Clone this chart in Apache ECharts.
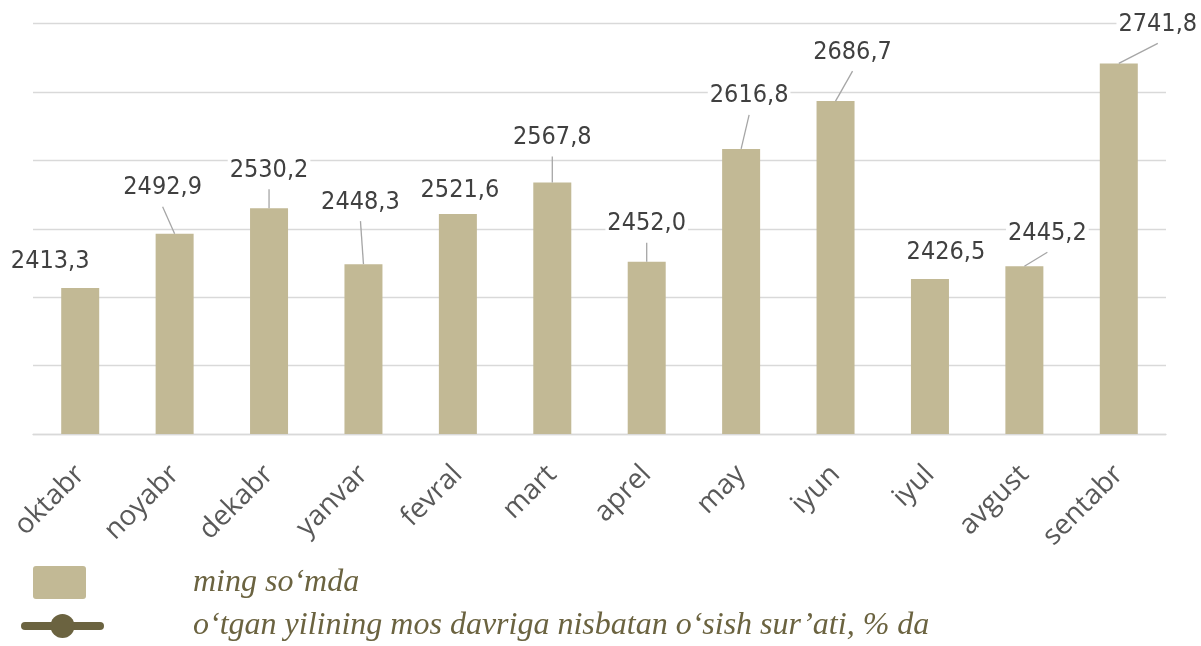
<!DOCTYPE html>
<html>
<head>
<meta charset="utf-8">
<script src="https://cdn.jsdelivr.net/npm/echarts@6/dist/echarts.min.js"></script>
<style>
  html, body { margin: 0; padding: 0; background: #ffffff; }
  #chart { width: 1201px; height: 646px; }
</style>
</head>
<body>
<div id="chart"></div>
<script>
// oylar
const months = ['oktabr', 'noyabr', 'dekabr', 'yanvar', 'fevral', 'mart', 'aprel', 'may', 'iyun', 'iyul', 'avgust', 'sentabr'];
// ming so‘mda
const values = [2413.3, 2492.9, 2530.2, 2448.3, 2521.6, 2567.8, 2452.0, 2616.8, 2686.7, 2426.5, 2445.2, 2741.8];
// o‘sish sur’ati - rasmda chizilmagan, faqat legendada bor
const growth = [];
// y o'qi (yozuvlari ko'rinmaydi)
const yTicks = [2200, 2300, 2400, 2500, 2600, 2700, 2800];

const barName = 'ming so‘mda';
const lineName = 'o‘tgan yilining mos davriga nisbatan o‘sish sur’ati, % da';

// yozuvlarni ustun tepasidan siljitish (px)
const labelDx = [-30, -12, 0, -3, 2, 0, 0, 8, 17, 16, 23, 39];
const labelDy = [-27, -46, -38, -62, -24, -45, -38, -53, -49, -27, -33, -39];
const showLeader = [false, true, true, true, false, true, true, true, true, false, true, true];

const barColor = '#C2B995';
const olive = '#6B6340';
const legendFont = "'Liberation Serif', serif";

function fmt(v) {
  return v.toFixed(1).replace('.', ',');
}

const myChart = echarts.init(document.getElementById('chart'));

const option = {
  animation: false,
  grid: {
    left: 33,
    right: 35,
    top: 23.6,
    bottom: 212
  },
  legend: [
    {
      data: [barName],
      orient: 'vertical',
      left: 28,
      top: 561,
      itemWidth: 53,
      itemHeight: 33,
      icon: 'path://M3,0 L50,0 Q53,0 53,3 L53,30 Q53,33 50,33 L3,33 Q0,33 0,30 L0,3 Q0,0 3,0 Z',
      textStyle: {
        fontFamily: legendFont,
        fontStyle: 'italic',
        fontSize: 32,
        color: olive,
        padding: [6, 0, 0, 102]
      }
    },
    {
      data: [lineName],
      orient: 'vertical',
      left: 16,
      top: 605,
      itemWidth: 75,
      itemHeight: 30,
      lineStyle: { color: olive, width: 8, cap: 'round' },
      itemStyle: { color: olive },
      textStyle: {
        fontFamily: legendFont,
        fontStyle: 'italic',
        fontSize: 32,
        color: olive,
        padding: [10, 0, 0, 88]
      }
    }
  ],
  xAxis: {
    type: 'category',
    data: months,
    axisLine: { lineStyle: { color: '#D9D9D9', width: 1.3 } },
    axisTick: { show: false },
    axisLabel: {
      rotate: 45,
      margin: 36,
      interval: 0,
      fontFamily: "'Open Sans', sans-serif",
      fontSize: 28,
      color: '#595959'
    }
  },
  yAxis: {
    type: 'value',
    min: yTicks[0],
    max: yTicks[yTicks.length - 1],
    interval: yTicks[1] - yTicks[0],
    axisLabel: { show: false },
    axisLine: { show: false },
    axisTick: { show: false },
    splitLine: { lineStyle: { color: '#D9D9D9', width: 1.3 } }
  },
  series: [
    {
      name: barName,
      type: 'bar',
      data: values,
      barWidth: 38,
      itemStyle: { color: barColor }
    },
    {
      name: lineName,
      type: 'line',
      data: growth,
      symbol: 'circle',
      itemStyle: { color: olive },
      lineStyle: { color: olive, width: 8, cap: 'round' }
    },
    {
      // qiymat yozuvlari va ularning chiziqlari
      type: 'custom',
      data: values.map((v, i) => [i, v]),
      z: 5,
      renderItem: (params, api) => {
        const i = params.dataIndex;
        const top = api.coord([api.value(0), api.value(1)]);
        const lx = top[0] + labelDx[i];
        const ly = top[1] + labelDy[i];
        const children = [];
        if (showLeader[i]) {
          children.push({
            type: 'line',
            shape: { x1: lx, y1: ly + 19, x2: top[0], y2: top[1] },
            style: { stroke: '#A6A6A6', lineWidth: 1.3 }
          });
        }
        children.push({
          type: 'text',
          x: lx,
          y: ly,
          style: {
            text: fmt(values[i]),
            align: 'center',
            verticalAlign: 'middle',
            fontFamily: "'DejaVu Sans Condensed', 'DejaVu Sans', sans-serif",
            fontSize: 25,
            fill: '#404040',
            backgroundColor: '#ffffff',
            padding: [1, 2]
          }
        });
        return { type: 'group', children: children };
      }
    }
  ]
};

myChart.setOption(option);
</script>
</body>
</html>
